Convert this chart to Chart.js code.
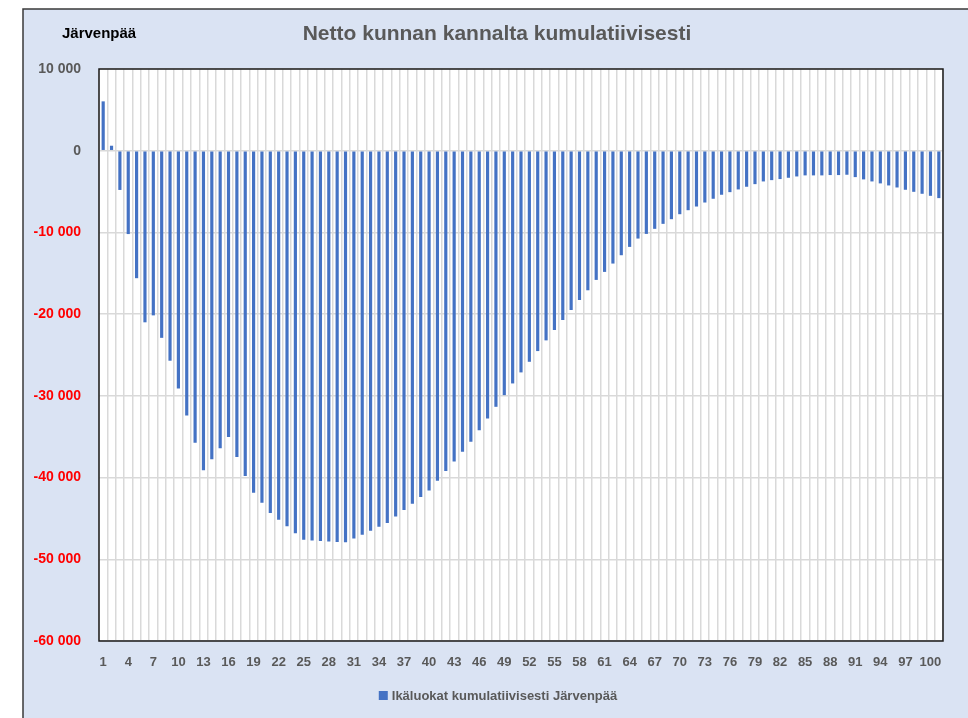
<!DOCTYPE html>
<html>
<head>
<meta charset="utf-8">
<title>Netto kunnan kannalta kumulatiivisesti</title>
<script src="https://cdn.jsdelivr.net/npm/chart.js@4/dist/chart.umd.min.js"></script>
<style>
  html, body { margin: 0; padding: 0; background: #fff; }
  #wrap { width: 968px; height: 718px; position: relative; }
</style>
</head>
<body>
<div id="wrap"><canvas id="nettoChart" width="968" height="718"></canvas></div>
<script>
// -----------------------
// Data (ikäluokat 1..101)
// -----------------------
const ageClasses = Array.from({ length: 101 }, (_, i) => String(i + 1));

const cumulativeNet = [
    6040,    610,  -4800, -10200, -15600, -21000, -20150, -22900, -25700, -29100,
  -32400, -35750, -39100, -37750, -36400, -35050, -37470, -39820, -41850, -43080,
  -44350, -45150, -45970, -46800, -47620, -47700, -47770, -47810, -47890, -47930,
  -47450, -46990, -46500, -46030, -45570, -44770, -43970, -43190, -42380, -41580,
  -40390, -39210, -38020, -36830, -35610, -34200, -32770, -31340, -29910, -28480,
  -27130, -25830, -24520, -23210, -21940, -20720, -19490, -18270, -17080, -15810,
  -14830, -13810, -12790, -11770, -10750, -10180,  -9560,  -8950,  -8380,  -7770,
   -7280,  -6830,  -6340,  -5880,  -5390,  -5070,  -4740,  -4410,  -4090,  -3760,
   -3600,  -3470,  -3310,  -3150,  -3020,  -3020,  -3020,  -2980,  -2980,  -2940,
   -3230,  -3510,  -3760,  -4000,  -4250,  -4500,  -4780,  -5030,  -5270,  -5520,
   -5800
];

const yTicks = [10000, 0, -10000, -20000, -30000, -40000, -50000, -60000];

const FONT = "'Liberation Sans Narrow', 'Arial Narrow', 'Liberation Sans', sans-serif";

// plot area as in the reference
const PLOT = { left: 99, top: 69, right: 943, bottom: 641 };

// frame, title, municipality label and legend
const framePlugin = {
  id: 'frame',
  beforeDraw(chart) {
    const c = chart.ctx;
    c.save();
    c.fillStyle = '#ffffff';
    c.fillRect(0, 0, chart.width, chart.height);
    c.fillStyle = '#DAE3F3';
    c.fillRect(23, 9, chart.width, chart.height);
    c.strokeStyle = '#3a3a3a';
    c.lineWidth = 1.5;
    c.beginPath();
    c.moveTo(23, chart.height);
    c.lineTo(23, 9);
    c.lineTo(chart.width, 9);
    c.stroke();
    const a = chart.chartArea;
    c.fillStyle = '#ffffff';
    c.fillRect(a.left, a.top, a.right - a.left, a.bottom - a.top);
    c.restore();
  },
  afterDraw(chart) {
    const c = chart.ctx;
    const a = chart.chartArea;
    c.save();
    c.strokeStyle = '#1a1a1a';
    c.lineWidth = 1.5;
    c.strokeRect(a.left, a.top, a.right - a.left, a.bottom - a.top);

    c.textBaseline = 'middle';
    c.fillStyle = '#595959';
    c.font = 'bold 21px ' + FONT;
    c.textAlign = 'center';
    c.fillText('Netto kunnan kannalta kumulatiivisesti', 497, 34);

    c.fillStyle = '#000000';
    c.font = 'bold 15px ' + FONT;
    c.textAlign = 'left';
    c.fillText('Järvenpää', 62, 34);

    // legend, centred on the frame like the reference
    const ds = chart.data.datasets[0];
    c.font = 'bold 13px ' + FONT;
    const tw = c.measureText(ds.label).width;
    const x0 = 498 - (tw + 13) / 2;
    c.fillStyle = ds.backgroundColor;
    c.fillRect(x0, 691, 9, 9);
    c.fillStyle = '#595959';
    c.fillText(ds.label, x0 + 13, 696);
    c.restore();
  }
};

function fmt(v) {
  const s = Math.abs(v).toString().replace(/\B(?=(\d{3})+(?!\d))/g, ' ');
  return (v < 0 ? '-' : '') + s;
}

function initChart() {
  const ctx = document.getElementById('nettoChart').getContext('2d');

  const chart = new Chart(ctx, {
    type: 'bar',
    data: {
      labels: ageClasses,
      datasets: [{
        label: 'Ikäluokat kumulatiivisesti Järvenpää',
        data: cumulativeNet,
        backgroundColor: '#4472C4',
        borderWidth: 0,
        barPercentage: 0.38,
        categoryPercentage: 1.0
      }]
    },
    options: {
      responsive: false,
      animation: false,
      layout: { padding: { left: 0, right: 25, top: 60, bottom: 50 } },
      plugins: {
        tooltip: { enabled: false },
        title: { display: false },
        legend: { display: false }
      },
      scales: {
        x: {
          offset: true,
          grid: { offset: true, color: '#D9D9D9', lineWidth: 1.5, drawTicks: false },
          border: { display: false },
          ticks: {
            autoSkip: false,
            maxRotation: 0,
            padding: 14,
            color: '#595959',
            font: { family: FONT, size: 13, weight: 'bold' },
            callback: (v, i) => (i % 3 === 0 ? ageClasses[i] : '')
          }
        },
        y: {
          min: -60000,
          max: 10000,
          afterFit: s => { s.width = PLOT.left; },
          afterBuildTicks: s => { s.ticks = yTicks.map(v => ({ value: v })); },
          grid: { color: '#D9D9D9', lineWidth: 1.5, drawTicks: false },
          border: { display: false },
          ticks: {
            padding: 18,
            color: c => (c.tick && c.tick.value < 0 ? '#FF0000' : '#595959'),
            font: { family: FONT, size: 14, weight: 'bold' },
            callback: v => fmt(v)
          }
        }
      }
    },
    plugins: [framePlugin]
  });

  // move the plot area to where it sits in the reference
  const a = chart.chartArea;
  chart.options.layout.padding.top += PLOT.top - a.top;
  chart.options.layout.padding.bottom += a.bottom - PLOT.bottom;
  chart.update('none');
}

document.addEventListener('DOMContentLoaded', initChart);
</script>
</body>
</html>
